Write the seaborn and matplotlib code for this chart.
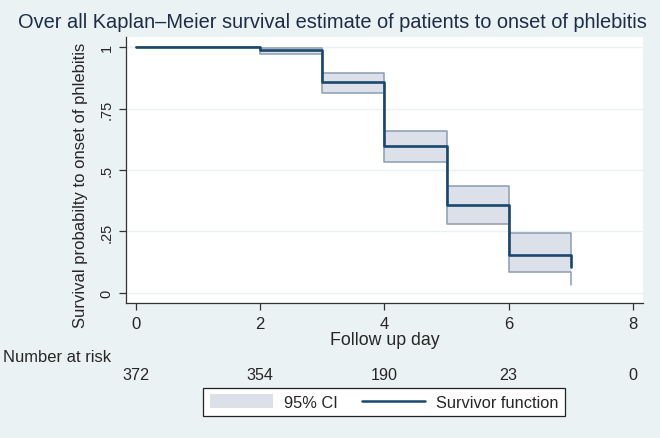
import numpy as np
import pandas as pd
import seaborn as sns
import matplotlib.pyplot as plt
from matplotlib.patches import Patch
from matplotlib.lines import Line2D
from matplotlib.transforms import blended_transform_factory

# Kaplan-Meier estimate
days = [0, 2, 3, 4, 5, 6, 7]
survival = [1.0, 0.988, 0.856, 0.599, 0.359, 0.154, 0.106]
ci_lower = [1.0, 0.970, 0.812, 0.534, 0.282, 0.084, 0.033]
ci_upper = [1.0, 0.995, 0.893, 0.659, 0.434, 0.243, 0.157]

risk_days = [0, 2, 4, 6, 8]
at_risk = [372, 354, 190, 23, 0]

x_ticks = [0, 2, 4, 6, 8]
y_ticks = [0, 0.25, 0.5, 0.75, 1]
y_tick_labels = ["0", ".25", ".5", ".75", "1"]

bg = "#EAF2F3"
navy = "#1A476F"
ci_fill = "#DCE0E8"
ci_edge = "#8C9DB5"

df = pd.DataFrame({"day": days, "surv": survival, "lo": ci_lower, "hi": ci_upper})

sns.set_theme(style="white")
plt.rcParams["font.family"] = ["Liberation Sans", "DejaVu Sans"]

fig = plt.figure(figsize=(6.6, 4.39), dpi=100, facecolor=bg)
ax = fig.add_axes([0.191, 0.3075, 0.783, 0.606])
ax.set_facecolor("white")

# CI band
ax.fill_between(df["day"], df["lo"], df["hi"], step="post", color=ci_fill, lw=0, zorder=1)
ax.step(df["day"], df["lo"], where="post", color=ci_edge, lw=1.1, zorder=2)
ax.step(df["day"], df["hi"], where="post", color=ci_edge, lw=1.1, zorder=2)

# survivor function
sns.lineplot(data=df, x="day", y="surv", drawstyle="steps-post", color=navy,
             lw=1.9, ax=ax, zorder=3, sort=False)

ax.set_xlim(-0.16, 8.16)
ax.set_ylim(-0.041, 1.041)
ax.set_xticks(x_ticks)
ax.set_xticklabels([str(t) for t in x_ticks], fontsize=12)
ax.set_yticks(y_ticks)
ax.set_yticklabels(y_tick_labels, fontsize=10.5, rotation=90, va="center")
for y in y_ticks:
    ax.axhline(y, color=bg, lw=1.0, zorder=0)

for side in ["top", "right"]:
    ax.spines[side].set_visible(False)
for side in ["left", "bottom"]:
    ax.spines[side].set_color("#333333")
    ax.spines[side].set_linewidth(0.9)
ax.tick_params(axis="both", direction="out", length=5, width=0.9, color="#333333",
               left=True, bottom=True, pad=4)

ax.set_xlabel("Follow up day", fontsize=12.8, labelpad=0)
ax.set_ylabel("Survival probabilty to onset of phlebitis", fontsize=12)
ax.yaxis.set_label_coords(-0.073, 0.445)

fig.text(0.503, 1 - 23 / 439, "Over all Kaplan\u2013Meier survival estimate of patients to onset of phlebitis",
         ha="center", va="center", fontsize=14.4, color="#1E2C48")

# number at risk table
fig.text(0.004, 1 - 358 / 439, "Number at risk", ha="left", va="center", fontsize=11.9)
trans = blended_transform_factory(ax.transData, fig.transFigure)
for d, n in zip(risk_days, at_risk):
    ax.text(d, 1 - 376 / 439, str(n), transform=trans, ha="center", va="center", fontsize=11.6)

handles = [Patch(facecolor=ci_fill, edgecolor="none"),
           Line2D([0], [0], color=navy, lw=1.8)]
leg = fig.legend(handles, ["95% CI", "Survivor function"], ncol=2,
                 loc="center", bbox_to_anchor=(384 / 660, 1 - 403 / 439),
                 fontsize=11.8, frameon=True, fancybox=False, framealpha=1,
                 edgecolor="#222222", handlelength=3.85, handleheight=0.9,
                 handletextpad=0.65, columnspacing=1.5, borderpad=0.4,
                 borderaxespad=0)
leg.get_frame().set_linewidth(0.9)

fig.savefig("out.png", dpi=100, facecolor=bg)
